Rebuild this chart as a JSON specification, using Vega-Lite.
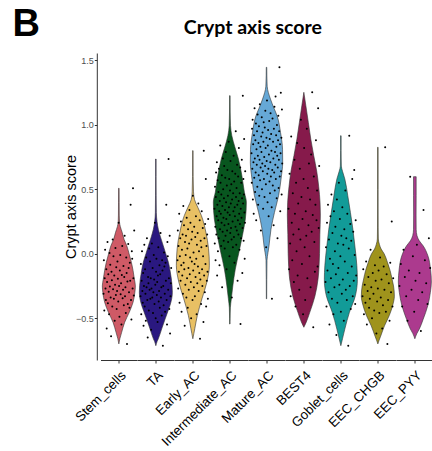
{"$schema":"https://vega.github.io/schema/vega-lite/v6.json","padding":{"left":12.5,"top":5,"right":0,"bottom":0},"background":"white","title":{"text":"B","anchor":"start","frame":"bounds","fontSize":38,"font":"Liberation Sans","fontWeight":"bold","color":"#000","offset":-26,"dx":-51},
"vconcat":[{
"title":{"text":"Crypt axis score","anchor":"middle","frame":"bounds","fontSize":19.5,"font":"Lato","fontWeight":"bold","color":"#000","dx":4.5,"offset":15},
"data":{"values":[
{"cell":"Stem_cells","score":-0.70,"density":0},{"cell":"Stem_cells","score":-0.66,"density":0.06},{"cell":"Stem_cells","score":-0.61,"density":0.17},{"cell":"Stem_cells","score":-0.533,"density":0.35},{"cell":"Stem_cells","score":-0.455,"density":0.63},{"cell":"Stem_cells","score":-0.377,"density":0.86},{"cell":"Stem_cells","score":-0.30,"density":0.97},{"cell":"Stem_cells","score":-0.25,"density":1.0},{"cell":"Stem_cells","score":-0.196,"density":0.94},{"cell":"Stem_cells","score":-0.13,"density":0.86},{"cell":"Stem_cells","score":-0.067,"density":0.76},{"cell":"Stem_cells","score":0.0,"density":0.62},{"cell":"Stem_cells","score":0.062,"density":0.48},{"cell":"Stem_cells","score":0.11,"density":0.32},{"cell":"Stem_cells","score":0.166,"density":0.2},{"cell":"Stem_cells","score":0.21,"density":0.09},{"cell":"Stem_cells","score":0.244,"density":0.04},{"cell":"Stem_cells","score":0.3,"density":0.025},{"cell":"Stem_cells","score":0.4,"density":0.02},{"cell":"Stem_cells","score":0.508,"density":0.015},
{"cell":"TA","score":-0.714,"density":0},{"cell":"TA","score":-0.68,"density":0.08},{"cell":"TA","score":-0.66,"density":0.15},{"cell":"TA","score":-0.585,"density":0.35},{"cell":"TA","score":-0.507,"density":0.56},{"cell":"TA","score":-0.45,"density":0.72},{"cell":"TA","score":-0.40,"density":0.86},{"cell":"TA","score":-0.30,"density":1.0},{"cell":"TA","score":-0.196,"density":0.94},{"cell":"TA","score":-0.13,"density":0.86},{"cell":"TA","score":-0.067,"density":0.76},{"cell":"TA","score":0.0,"density":0.6},{"cell":"TA","score":0.062,"density":0.45},{"cell":"TA","score":0.13,"density":0.28},{"cell":"TA","score":0.19,"density":0.15},{"cell":"TA","score":0.25,"density":0.07},{"cell":"TA","score":0.32,"density":0.03},{"cell":"TA","score":0.45,"density":0.02},{"cell":"TA","score":0.6,"density":0.015},{"cell":"TA","score":0.735,"density":0.015},
{"cell":"Early_AC","score":-0.66,"density":0},{"cell":"Early_AC","score":-0.62,"density":0.06},{"cell":"Early_AC","score":-0.58,"density":0.12},{"cell":"Early_AC","score":-0.48,"density":0.27},{"cell":"Early_AC","score":-0.35,"density":0.55},{"cell":"Early_AC","score":-0.22,"density":0.85},{"cell":"Early_AC","score":-0.09,"density":1.0},{"cell":"Early_AC","score":0.04,"density":0.95},{"cell":"Early_AC","score":0.166,"density":0.79},{"cell":"Early_AC","score":0.295,"density":0.52},{"cell":"Early_AC","score":0.36,"density":0.3},{"cell":"Early_AC","score":0.42,"density":0.1},{"cell":"Early_AC","score":0.48,"density":0.04},{"cell":"Early_AC","score":0.6,"density":0.02},{"cell":"Early_AC","score":0.8,"density":0.015},
{"cell":"Intermediate_AC","score":-0.546,"density":0.01},{"cell":"Intermediate_AC","score":-0.5,"density":0.015},{"cell":"Intermediate_AC","score":-0.42,"density":0.03},{"cell":"Intermediate_AC","score":-0.35,"density":0.09},{"cell":"Intermediate_AC","score":-0.25,"density":0.18},{"cell":"Intermediate_AC","score":-0.12,"density":0.33},{"cell":"Intermediate_AC","score":0.01,"density":0.55},{"cell":"Intermediate_AC","score":0.14,"density":0.76},{"cell":"Intermediate_AC","score":0.27,"density":0.94},{"cell":"Intermediate_AC","score":0.4,"density":1.0},{"cell":"Intermediate_AC","score":0.477,"density":0.88},{"cell":"Intermediate_AC","score":0.606,"density":0.73},{"cell":"Intermediate_AC","score":0.735,"density":0.52},{"cell":"Intermediate_AC","score":0.83,"density":0.3},{"cell":"Intermediate_AC","score":0.916,"density":0.12},{"cell":"Intermediate_AC","score":0.994,"density":0.04},{"cell":"Intermediate_AC","score":1.1,"density":0.02},{"cell":"Intermediate_AC","score":1.227,"density":0.015},
{"cell":"Mature_AC","score":-0.35,"density":0.01},{"cell":"Mature_AC","score":-0.2,"density":0.015},{"cell":"Mature_AC","score":-0.05,"density":0.03},{"cell":"Mature_AC","score":0.01,"density":0.09},{"cell":"Mature_AC","score":0.06,"density":0.15},{"cell":"Mature_AC","score":0.19,"density":0.27},{"cell":"Mature_AC","score":0.32,"density":0.48},{"cell":"Mature_AC","score":0.45,"density":0.73},{"cell":"Mature_AC","score":0.58,"density":0.88},{"cell":"Mature_AC","score":0.71,"density":0.98},{"cell":"Mature_AC","score":0.81,"density":0.97},{"cell":"Mature_AC","score":0.94,"density":0.85},{"cell":"Mature_AC","score":1.07,"density":0.64},{"cell":"Mature_AC","score":1.13,"density":0.45},{"cell":"Mature_AC","score":1.2,"density":0.24},{"cell":"Mature_AC","score":1.3,"density":0.04},{"cell":"Mature_AC","score":1.38,"density":0.02},{"cell":"Mature_AC","score":1.447,"density":0.015},
{"cell":"BEST4","score":-0.571,"density":0},{"cell":"BEST4","score":-0.53,"density":0.15},{"cell":"BEST4","score":-0.455,"density":0.36},{"cell":"BEST4","score":-0.33,"density":0.67},{"cell":"BEST4","score":-0.196,"density":0.86},{"cell":"BEST4","score":-0.1,"density":0.92},{"cell":"BEST4","score":0.0,"density":0.95},{"cell":"BEST4","score":0.15,"density":0.97},{"cell":"BEST4","score":0.3,"density":1.0},{"cell":"BEST4","score":0.4,"density":0.98},{"cell":"BEST4","score":0.52,"density":0.9},{"cell":"BEST4","score":0.64,"density":0.78},{"cell":"BEST4","score":0.76,"density":0.6},{"cell":"BEST4","score":0.89,"density":0.42},{"cell":"BEST4","score":1.02,"density":0.27},{"cell":"BEST4","score":1.15,"density":0.12},{"cell":"BEST4","score":1.253,"density":0},
{"cell":"Goblet_cells","score":-0.714,"density":0},{"cell":"Goblet_cells","score":-0.66,"density":0.1},{"cell":"Goblet_cells","score":-0.585,"density":0.24},{"cell":"Goblet_cells","score":-0.455,"density":0.52},{"cell":"Goblet_cells","score":-0.326,"density":0.88},{"cell":"Goblet_cells","score":-0.2,"density":1.0},{"cell":"Goblet_cells","score":-0.093,"density":0.97},{"cell":"Goblet_cells","score":0.06,"density":0.85},{"cell":"Goblet_cells","score":0.19,"density":0.73},{"cell":"Goblet_cells","score":0.32,"density":0.58},{"cell":"Goblet_cells","score":0.45,"density":0.42},{"cell":"Goblet_cells","score":0.58,"density":0.24},{"cell":"Goblet_cells","score":0.64,"density":0.1},{"cell":"Goblet_cells","score":0.68,"density":0.03},{"cell":"Goblet_cells","score":0.8,"density":0.015},{"cell":"Goblet_cells","score":0.916,"density":0.015},
{"cell":"EEC_CHGB","score":-0.70,"density":0},{"cell":"EEC_CHGB","score":-0.67,"density":0.08},{"cell":"EEC_CHGB","score":-0.64,"density":0.17},{"cell":"EEC_CHGB","score":-0.56,"density":0.4},{"cell":"EEC_CHGB","score":-0.48,"density":0.69},{"cell":"EEC_CHGB","score":-0.40,"density":0.9},{"cell":"EEC_CHGB","score":-0.33,"density":1.0},{"cell":"EEC_CHGB","score":-0.25,"density":0.95},{"cell":"EEC_CHGB","score":-0.196,"density":0.86},{"cell":"EEC_CHGB","score":-0.13,"density":0.74},{"cell":"EEC_CHGB","score":-0.067,"density":0.58},{"cell":"EEC_CHGB","score":0.0,"density":0.38},{"cell":"EEC_CHGB","score":0.036,"density":0.2},{"cell":"EEC_CHGB","score":0.07,"density":0.1},{"cell":"EEC_CHGB","score":0.114,"density":0.03},{"cell":"EEC_CHGB","score":0.2,"density":0.02},{"cell":"EEC_CHGB","score":0.5,"density":0.015},{"cell":"EEC_CHGB","score":0.826,"density":0.015},
{"cell":"EEC_PYY","score":-0.66,"density":0},{"cell":"EEC_PYY","score":-0.62,"density":0.12},{"cell":"EEC_PYY","score":-0.585,"density":0.27},{"cell":"EEC_PYY","score":-0.51,"density":0.5},{"cell":"EEC_PYY","score":-0.40,"density":0.79},{"cell":"EEC_PYY","score":-0.30,"density":0.94},{"cell":"EEC_PYY","score":-0.22,"density":1.0},{"cell":"EEC_PYY","score":-0.12,"density":0.95},{"cell":"EEC_PYY","score":-0.016,"density":0.79},{"cell":"EEC_PYY","score":0.062,"density":0.5},{"cell":"EEC_PYY","score":0.10,"density":0.27},{"cell":"EEC_PYY","score":0.14,"density":0.13},{"cell":"EEC_PYY","score":0.19,"density":0.08},{"cell":"EEC_PYY","score":0.3,"density":0.075},{"cell":"EEC_PYY","score":0.45,"density":0.08},{"cell":"EEC_PYY","score":0.598,"density":0.08},
{"cell":"Stem_cells","score":-0.31},{"cell":"Stem_cells","score":-0.05},{"cell":"Stem_cells","score":-0.44},{"cell":"Stem_cells","score":-0.19},{"cell":"Stem_cells","score":0.03},{"cell":"Stem_cells","score":-0.27},{"cell":"Stem_cells","score":-0.36},{"cell":"Stem_cells","score":-0.12},{"cell":"Stem_cells","score":-0.58},{"cell":"Stem_cells","score":-0.22},{"cell":"Stem_cells","score":0.09},{"cell":"Stem_cells","score":-0.385},{"cell":"Stem_cells","score":-0.16},{"cell":"Stem_cells","score":-0.295},{"cell":"Stem_cells","score":-0.47},{"cell":"Stem_cells","score":0.005},{"cell":"Stem_cells","score":-0.255},{"cell":"Stem_cells","score":-0.085},{"cell":"Stem_cells","score":-0.34},{"cell":"Stem_cells","score":-0.64},{"cell":"Stem_cells","score":-0.14},{"cell":"Stem_cells","score":-0.205},{"cell":"Stem_cells","score":-0.41},{"cell":"Stem_cells","score":0.11},{"cell":"Stem_cells","score":-0.275},{"cell":"Stem_cells","score":-0.02},{"cell":"Stem_cells","score":-0.35},{"cell":"Stem_cells","score":-0.17},{"cell":"Stem_cells","score":-0.52},{"cell":"Stem_cells","score":-0.24},{"cell":"Stem_cells","score":0.045},{"cell":"Stem_cells","score":-0.32},{"cell":"Stem_cells","score":-0.105},{"cell":"Stem_cells","score":-0.43},{"cell":"Stem_cells","score":-0.29},{"cell":"Stem_cells","score":-0.06},{"cell":"Stem_cells","score":-0.195},{"cell":"Stem_cells","score":-0.37},{"cell":"Stem_cells","score":0.24},{"cell":"Stem_cells","score":-0.25},{"cell":"Stem_cells","score":-0.49},{"cell":"Stem_cells","score":-0.13},{"cell":"Stem_cells","score":-0.01},{"cell":"Stem_cells","score":-0.315},{"cell":"Stem_cells","score":-0.23},{"cell":"Stem_cells","score":-0.55},{"cell":"Stem_cells","score":-0.165},{"cell":"Stem_cells","score":0.06},{"cell":"Stem_cells","score":-0.345},{"cell":"Stem_cells","score":-0.28},{"cell":"Stem_cells","score":-0.095},{"cell":"Stem_cells","score":-0.40},{"cell":"Stem_cells","score":-0.18},{"cell":"Stem_cells","score":0.14},{"cell":"Stem_cells","score":-0.33},{"cell":"Stem_cells","score":-0.26},{"cell":"Stem_cells","score":-0.46},{"cell":"Stem_cells","score":-0.03},{"cell":"Stem_cells","score":-0.15},{"cell":"Stem_cells","score":-0.70},{"cell":"Stem_cells","score":-0.215},{"cell":"Stem_cells","score":-0.39},{"cell":"Stem_cells","score":0.075},{"cell":"Stem_cells","score":-0.11},{"cell":"Stem_cells","score":-0.3},{"cell":"Stem_cells","score":-0.42},{"cell":"Stem_cells","score":-0.07},{"cell":"Stem_cells","score":-0.21},{"cell":"Stem_cells","score":0.38},{"cell":"Stem_cells","score":-0.36},{"cell":"Stem_cells","score":-0.51},{"cell":"Stem_cells","score":0.02},{"cell":"Stem_cells","score":-0.04},{"cell":"Stem_cells","score":-0.27},{"cell":"Stem_cells","score":0.508},{"cell":"Stem_cells","score":-0.19},{"cell":"Stem_cells","score":-0.325},{"cell":"Stem_cells","score":0.18},
{"cell":"TA","score":-0.33},{"cell":"TA","score":-0.08},{"cell":"TA","score":-0.47},{"cell":"TA","score":-0.21},{"cell":"TA","score":0.02},{"cell":"TA","score":-0.29},{"cell":"TA","score":-0.38},{"cell":"TA","score":-0.15},{"cell":"TA","score":-0.56},{"cell":"TA","score":-0.25},{"cell":"TA","score":0.07},{"cell":"TA","score":-0.41},{"cell":"TA","score":-0.12},{"cell":"TA","score":-0.31},{"cell":"TA","score":-0.52},{"cell":"TA","score":-0.03},{"cell":"TA","score":-0.26},{"cell":"TA","score":0.12},{"cell":"TA","score":-0.36},{"cell":"TA","score":-0.65},{"cell":"TA","score":-0.18},{"cell":"TA","score":-0.23},{"cell":"TA","score":-0.44},{"cell":"TA","score":0.04},{"cell":"TA","score":-0.28},{"cell":"TA","score":-0.06},{"cell":"TA","score":-0.35},{"cell":"TA","score":-0.19},{"cell":"TA","score":-0.59},{"cell":"TA","score":-0.27},{"cell":"TA","score":0.08},{"cell":"TA","score":-0.34},{"cell":"TA","score":-0.11},{"cell":"TA","score":-0.46},{"cell":"TA","score":-0.3},{"cell":"TA","score":-0.01},{"cell":"TA","score":-0.2},{"cell":"TA","score":-0.39},{"cell":"TA","score":0.24},{"cell":"TA","score":-0.24},{"cell":"TA","score":-0.5},{"cell":"TA","score":-0.14},{"cell":"TA","score":-0.04},{"cell":"TA","score":-0.32},{"cell":"TA","score":-0.22},{"cell":"TA","score":-0.53},{"cell":"TA","score":-0.17},{"cell":"TA","score":0.05},{"cell":"TA","score":-0.37},{"cell":"TA","score":-0.29},{"cell":"TA","score":-0.09},{"cell":"TA","score":-0.42},{"cell":"TA","score":-0.16},{"cell":"TA","score":0.16},{"cell":"TA","score":-0.34},{"cell":"TA","score":-0.26},{"cell":"TA","score":-0.48},{"cell":"TA","score":-0.05},{"cell":"TA","score":-0.13},{"cell":"TA","score":-0.714},{"cell":"TA","score":-0.25},{"cell":"TA","score":-0.4},{"cell":"TA","score":0.01},{"cell":"TA","score":-0.1},{"cell":"TA","score":-0.31},{"cell":"TA","score":-0.45},{"cell":"TA","score":-0.07},{"cell":"TA","score":-0.21},{"cell":"TA","score":0.38},{"cell":"TA","score":-0.36},{"cell":"TA","score":-0.55},{"cell":"TA","score":0.09},{"cell":"TA","score":-0.02},{"cell":"TA","score":-0.28},{"cell":"TA","score":0.735},{"cell":"TA","score":-0.19},{"cell":"TA","score":-0.43},{"cell":"TA","score":0.14},{"cell":"TA","score":-0.62},{"cell":"TA","score":-0.33},{"cell":"TA","score":-0.23},{"cell":"TA","score":-0.11},
{"cell":"Early_AC","score":-0.05},{"cell":"Early_AC","score":0.18},{"cell":"Early_AC","score":-0.27},{"cell":"Early_AC","score":0.06},{"cell":"Early_AC","score":-0.14},{"cell":"Early_AC","score":0.31},{"cell":"Early_AC","score":-0.38},{"cell":"Early_AC","score":-0.02},{"cell":"Early_AC","score":0.12},{"cell":"Early_AC","score":-0.21},{"cell":"Early_AC","score":0.25},{"cell":"Early_AC","score":-0.09},{"cell":"Early_AC","score":-0.45},{"cell":"Early_AC","score":0.03},{"cell":"Early_AC","score":-0.17},{"cell":"Early_AC","score":0.15},{"cell":"Early_AC","score":-0.31},{"cell":"Early_AC","score":0.37},{"cell":"Early_AC","score":-0.07},{"cell":"Early_AC","score":0.22},{"cell":"Early_AC","score":-0.12},{"cell":"Early_AC","score":-0.56},{"cell":"Early_AC","score":0.09},{"cell":"Early_AC","score":-0.24},{"cell":"Early_AC","score":-0.01},{"cell":"Early_AC","score":0.14},{"cell":"Early_AC","score":-0.34},{"cell":"Early_AC","score":0.28},{"cell":"Early_AC","score":-0.19},{"cell":"Early_AC","score":0.04},{"cell":"Early_AC","score":-0.42},{"cell":"Early_AC","score":0.19},{"cell":"Early_AC","score":-0.11},{"cell":"Early_AC","score":-0.28},{"cell":"Early_AC","score":0.08},{"cell":"Early_AC","score":0.34},{"cell":"Early_AC","score":-0.16},{"cell":"Early_AC","score":-0.03},{"cell":"Early_AC","score":0.24},{"cell":"Early_AC","score":-0.22},{"cell":"Early_AC","score":-0.5},{"cell":"Early_AC","score":0.11},{"cell":"Early_AC","score":-0.06},{"cell":"Early_AC","score":0.17},{"cell":"Early_AC","score":-0.36},{"cell":"Early_AC","score":0.45},{"cell":"Early_AC","score":-0.13},{"cell":"Early_AC","score":0.01},{"cell":"Early_AC","score":-0.26},{"cell":"Early_AC","score":0.21},{"cell":"Early_AC","score":-0.08},{"cell":"Early_AC","score":-0.33},{"cell":"Early_AC","score":0.13},{"cell":"Early_AC","score":-0.18},{"cell":"Early_AC","score":0.29},{"cell":"Early_AC","score":-0.04},{"cell":"Early_AC","score":-0.47},{"cell":"Early_AC","score":0.07},{"cell":"Early_AC","score":-0.23},{"cell":"Early_AC","score":0.16},{"cell":"Early_AC","score":-0.1},{"cell":"Early_AC","score":0.39},{"cell":"Early_AC","score":-0.29},{"cell":"Early_AC","score":0.02},{"cell":"Early_AC","score":-0.15},{"cell":"Early_AC","score":0.26},{"cell":"Early_AC","score":-0.66},{"cell":"Early_AC","score":-0.2},{"cell":"Early_AC","score":0.1},{"cell":"Early_AC","score":-0.39},{"cell":"Early_AC","score":0.05},{"cell":"Early_AC","score":0.33},{"cell":"Early_AC","score":-0.12},{"cell":"Early_AC","score":-0.25},{"cell":"Early_AC","score":0.2},{"cell":"Early_AC","score":-0.02},{"cell":"Early_AC","score":-0.53},{"cell":"Early_AC","score":0.8},{"cell":"Early_AC","score":-0.17},{"cell":"Early_AC","score":0.12},{"cell":"Early_AC","score":-0.3},{"cell":"Early_AC","score":0.23},{"cell":"Early_AC","score":-0.08},{"cell":"Early_AC","score":0.58},{"cell":"Early_AC","score":-0.41},{"cell":"Early_AC","score":0.06},{"cell":"Early_AC","score":-0.21},{"cell":"Early_AC","score":0.15},{"cell":"Early_AC","score":-0.14},{"cell":"Early_AC","score":-0.35},{"cell":"Early_AC","score":0.27},
{"cell":"Intermediate_AC","score":0.35},{"cell":"Intermediate_AC","score":0.08},{"cell":"Intermediate_AC","score":0.52},{"cell":"Intermediate_AC","score":0.21},{"cell":"Intermediate_AC","score":-0.05},{"cell":"Intermediate_AC","score":0.44},{"cell":"Intermediate_AC","score":0.63},{"cell":"Intermediate_AC","score":0.15},{"cell":"Intermediate_AC","score":0.29},{"cell":"Intermediate_AC","score":0.71},{"cell":"Intermediate_AC","score":-0.17},{"cell":"Intermediate_AC","score":0.38},{"cell":"Intermediate_AC","score":0.57},{"cell":"Intermediate_AC","score":0.02},{"cell":"Intermediate_AC","score":0.26},{"cell":"Intermediate_AC","score":0.48},{"cell":"Intermediate_AC","score":0.12},{"cell":"Intermediate_AC","score":0.66},{"cell":"Intermediate_AC","score":0.33},{"cell":"Intermediate_AC","score":-0.09},{"cell":"Intermediate_AC","score":0.41},{"cell":"Intermediate_AC","score":0.19},{"cell":"Intermediate_AC","score":0.84},{"cell":"Intermediate_AC","score":0.55},{"cell":"Intermediate_AC","score":0.31},{"cell":"Intermediate_AC","score":0.06},{"cell":"Intermediate_AC","score":0.46},{"cell":"Intermediate_AC","score":0.24},{"cell":"Intermediate_AC","score":0.61},{"cell":"Intermediate_AC","score":-0.26},{"cell":"Intermediate_AC","score":0.37},{"cell":"Intermediate_AC","score":0.17},{"cell":"Intermediate_AC","score":0.74},{"cell":"Intermediate_AC","score":0.5},{"cell":"Intermediate_AC","score":0.28},{"cell":"Intermediate_AC","score":0.1},{"cell":"Intermediate_AC","score":0.43},{"cell":"Intermediate_AC","score":0.68},{"cell":"Intermediate_AC","score":0.22},{"cell":"Intermediate_AC","score":0.04},{"cell":"Intermediate_AC","score":0.34},{"cell":"Intermediate_AC","score":0.59},{"cell":"Intermediate_AC","score":0.14},{"cell":"Intermediate_AC","score":0.79},{"cell":"Intermediate_AC","score":0.4},{"cell":"Intermediate_AC","score":0.27},{"cell":"Intermediate_AC","score":-0.12},{"cell":"Intermediate_AC","score":0.53},{"cell":"Intermediate_AC","score":0.18},{"cell":"Intermediate_AC","score":0.65},{"cell":"Intermediate_AC","score":0.32},{"cell":"Intermediate_AC","score":0.45},{"cell":"Intermediate_AC","score":0.09},{"cell":"Intermediate_AC","score":0.23},{"cell":"Intermediate_AC","score":0.87},{"cell":"Intermediate_AC","score":0.36},{"cell":"Intermediate_AC","score":0.58},{"cell":"Intermediate_AC","score":-0.02},{"cell":"Intermediate_AC","score":0.3},{"cell":"Intermediate_AC","score":0.49},{"cell":"Intermediate_AC","score":0.16},{"cell":"Intermediate_AC","score":0.72},{"cell":"Intermediate_AC","score":0.39},{"cell":"Intermediate_AC","score":0.2},{"cell":"Intermediate_AC","score":0.54},{"cell":"Intermediate_AC","score":0.11},{"cell":"Intermediate_AC","score":-0.34},{"cell":"Intermediate_AC","score":0.42},{"cell":"Intermediate_AC","score":0.64},{"cell":"Intermediate_AC","score":0.25},{"cell":"Intermediate_AC","score":0.05},{"cell":"Intermediate_AC","score":0.47},{"cell":"Intermediate_AC","score":0.33},{"cell":"Intermediate_AC","score":0.76},{"cell":"Intermediate_AC","score":0.13},{"cell":"Intermediate_AC","score":0.56},{"cell":"Intermediate_AC","score":-0.07},{"cell":"Intermediate_AC","score":0.36},{"cell":"Intermediate_AC","score":0.29},{"cell":"Intermediate_AC","score":0.62},{"cell":"Intermediate_AC","score":0.21},{"cell":"Intermediate_AC","score":0.95},{"cell":"Intermediate_AC","score":0.44},{"cell":"Intermediate_AC","score":0.07},{"cell":"Intermediate_AC","score":0.51},{"cell":"Intermediate_AC","score":0.18},{"cell":"Intermediate_AC","score":0.69},{"cell":"Intermediate_AC","score":0.38},{"cell":"Intermediate_AC","score":-0.21},{"cell":"Intermediate_AC","score":0.26},{"cell":"Intermediate_AC","score":0.6},{"cell":"Intermediate_AC","score":0.15},{"cell":"Intermediate_AC","score":0.41},{"cell":"Intermediate_AC","score":0.82},{"cell":"Intermediate_AC","score":0.31},{"cell":"Intermediate_AC","score":0.03},{"cell":"Intermediate_AC","score":0.47},{"cell":"Intermediate_AC","score":0.23},{"cell":"Intermediate_AC","score":0.67},{"cell":"Intermediate_AC","score":-0.546},{"cell":"Intermediate_AC","score":0.35},{"cell":"Intermediate_AC","score":0.12},{"cell":"Intermediate_AC","score":0.55},{"cell":"Intermediate_AC","score":0.28},{"cell":"Intermediate_AC","score":0.73},{"cell":"Intermediate_AC","score":0.43},{"cell":"Intermediate_AC","score":-0.15},{"cell":"Intermediate_AC","score":0.2},{"cell":"Intermediate_AC","score":1.227},{"cell":"Intermediate_AC","score":0.39},{"cell":"Intermediate_AC","score":0.58},{"cell":"Intermediate_AC","score":0.1},{"cell":"Intermediate_AC","score":0.46},{"cell":"Intermediate_AC","score":0.89},{"cell":"Intermediate_AC","score":0.32},{"cell":"Intermediate_AC","score":-0.04},{"cell":"Intermediate_AC","score":0.24},{"cell":"Intermediate_AC","score":0.64},
{"cell":"Mature_AC","score":0.78},{"cell":"Mature_AC","score":0.55},{"cell":"Mature_AC","score":0.97},{"cell":"Mature_AC","score":0.66},{"cell":"Mature_AC","score":1.04},{"cell":"Mature_AC","score":0.42},{"cell":"Mature_AC","score":0.85},{"cell":"Mature_AC","score":0.71},{"cell":"Mature_AC","score":0.31},{"cell":"Mature_AC","score":0.92},{"cell":"Mature_AC","score":0.59},{"cell":"Mature_AC","score":1.13},{"cell":"Mature_AC","score":0.74},{"cell":"Mature_AC","score":0.48},{"cell":"Mature_AC","score":0.88},{"cell":"Mature_AC","score":0.63},{"cell":"Mature_AC","score":1.01},{"cell":"Mature_AC","score":0.26},{"cell":"Mature_AC","score":0.81},{"cell":"Mature_AC","score":0.69},{"cell":"Mature_AC","score":0.95},{"cell":"Mature_AC","score":0.52},{"cell":"Mature_AC","score":1.08},{"cell":"Mature_AC","score":0.76},{"cell":"Mature_AC","score":0.38},{"cell":"Mature_AC","score":0.86},{"cell":"Mature_AC","score":0.61},{"cell":"Mature_AC","score":0.99},{"cell":"Mature_AC","score":0.45},{"cell":"Mature_AC","score":0.73},{"cell":"Mature_AC","score":1.16},{"cell":"Mature_AC","score":0.57},{"cell":"Mature_AC","score":0.83},{"cell":"Mature_AC","score":0.67},{"cell":"Mature_AC","score":0.18},{"cell":"Mature_AC","score":0.91},{"cell":"Mature_AC","score":0.79},{"cell":"Mature_AC","score":1.06},{"cell":"Mature_AC","score":0.5},{"cell":"Mature_AC","score":0.7},{"cell":"Mature_AC","score":0.94},{"cell":"Mature_AC","score":0.64},{"cell":"Mature_AC","score":0.35},{"cell":"Mature_AC","score":0.87},{"cell":"Mature_AC","score":1.02},{"cell":"Mature_AC","score":0.58},{"cell":"Mature_AC","score":0.75},{"cell":"Mature_AC","score":0.44},{"cell":"Mature_AC","score":0.98},{"cell":"Mature_AC","score":0.68},{"cell":"Mature_AC","score":1.11},{"cell":"Mature_AC","score":0.82},{"cell":"Mature_AC","score":0.54},{"cell":"Mature_AC","score":0.05},{"cell":"Mature_AC","score":0.9},{"cell":"Mature_AC","score":0.72},{"cell":"Mature_AC","score":1.19},{"cell":"Mature_AC","score":0.62},{"cell":"Mature_AC","score":0.4},{"cell":"Mature_AC","score":0.84},{"cell":"Mature_AC","score":0.96},{"cell":"Mature_AC","score":0.66},{"cell":"Mature_AC","score":0.29},{"cell":"Mature_AC","score":0.77},{"cell":"Mature_AC","score":1.03},{"cell":"Mature_AC","score":0.56},{"cell":"Mature_AC","score":0.89},{"cell":"Mature_AC","score":0.47},{"cell":"Mature_AC","score":0.71},{"cell":"Mature_AC","score":1.09},{"cell":"Mature_AC","score":0.6},{"cell":"Mature_AC","score":0.93},{"cell":"Mature_AC","score":0.8},{"cell":"Mature_AC","score":0.36},{"cell":"Mature_AC","score":-0.35},{"cell":"Mature_AC","score":0.65},{"cell":"Mature_AC","score":1.05},{"cell":"Mature_AC","score":0.53},{"cell":"Mature_AC","score":0.87},{"cell":"Mature_AC","score":0.74},{"cell":"Mature_AC","score":0.22},{"cell":"Mature_AC","score":0.97},{"cell":"Mature_AC","score":0.63},{"cell":"Mature_AC","score":1.14},{"cell":"Mature_AC","score":0.49},{"cell":"Mature_AC","score":0.79},{"cell":"Mature_AC","score":0.69},{"cell":"Mature_AC","score":1.22},{"cell":"Mature_AC","score":0.58},{"cell":"Mature_AC","score":0.92},{"cell":"Mature_AC","score":0.83},{"cell":"Mature_AC","score":0.43},{"cell":"Mature_AC","score":1.0},{"cell":"Mature_AC","score":0.76},{"cell":"Mature_AC","score":0.12},{"cell":"Mature_AC","score":0.67},{"cell":"Mature_AC","score":0.88},{"cell":"Mature_AC","score":1.07},{"cell":"Mature_AC","score":0.51},{"cell":"Mature_AC","score":0.73},{"cell":"Mature_AC","score":0.95},{"cell":"Mature_AC","score":1.447},{"cell":"Mature_AC","score":0.6},{"cell":"Mature_AC","score":0.85},{"cell":"Mature_AC","score":0.33},{"cell":"Mature_AC","score":0.78},{"cell":"Mature_AC","score":1.25},{"cell":"Mature_AC","score":0.64},{"cell":"Mature_AC","score":0.9},{"cell":"Mature_AC","score":0.46},{"cell":"Mature_AC","score":1.12},{"cell":"Mature_AC","score":0.7},
{"cell":"BEST4","score":0.35},{"cell":"BEST4","score":-0.12},{"cell":"BEST4","score":0.62},{"cell":"BEST4","score":0.08},{"cell":"BEST4","score":-0.33},{"cell":"BEST4","score":0.91},{"cell":"BEST4","score":0.24},{"cell":"BEST4","score":-0.05},{"cell":"BEST4","score":0.47},{"cell":"BEST4","score":0.15},{"cell":"BEST4","score":-0.22},{"cell":"BEST4","score":0.73},{"cell":"BEST4","score":0.31},{"cell":"BEST4","score":-0.41},{"cell":"BEST4","score":0.55},{"cell":"BEST4","score":0.02},{"cell":"BEST4","score":0.86},{"cell":"BEST4","score":-0.17},{"cell":"BEST4","score":0.39},{"cell":"BEST4","score":0.19},{"cell":"BEST4","score":-0.28},{"cell":"BEST4","score":0.66},{"cell":"BEST4","score":0.11},{"cell":"BEST4","score":1.04},{"cell":"BEST4","score":0.44},{"cell":"BEST4","score":-0.08},{"cell":"BEST4","score":0.27},{"cell":"BEST4","score":-0.47},{"cell":"BEST4","score":0.58},{"cell":"BEST4","score":0.82},{"cell":"BEST4","score":0.05},{"cell":"BEST4","score":-0.36},{"cell":"BEST4","score":0.33},{"cell":"BEST4","score":0.14},{"cell":"BEST4","score":0.97},{"cell":"BEST4","score":-0.19},{"cell":"BEST4","score":0.51},{"cell":"BEST4","score":0.22},{"cell":"BEST4","score":0.7},{"cell":"BEST4","score":-0.02},{"cell":"BEST4","score":0.42},{"cell":"BEST4","score":-0.26},{"cell":"BEST4","score":0.77},{"cell":"BEST4","score":0.17},{"cell":"BEST4","score":1.253},{"cell":"BEST4","score":0.3},{"cell":"BEST4","score":-0.571},{"cell":"BEST4","score":0.6},{"cell":"BEST4","score":0.09},{"cell":"BEST4","score":-0.14},{"cell":"BEST4","score":0.38},{"cell":"BEST4","score":0.88},{"cell":"BEST4","score":0.26},{"cell":"BEST4","score":0.49},{"cell":"BEST4","score":-0.1},{"cell":"BEST4","score":1.13},{"cell":"BEST4","score":0.2},{"cell":"BEST4","score":0.68},
{"cell":"Goblet_cells","score":-0.22},{"cell":"Goblet_cells","score":0.05},{"cell":"Goblet_cells","score":-0.41},{"cell":"Goblet_cells","score":0.24},{"cell":"Goblet_cells","score":-0.13},{"cell":"Goblet_cells","score":0.38},{"cell":"Goblet_cells","score":-0.3},{"cell":"Goblet_cells","score":0.11},{"cell":"Goblet_cells","score":-0.55},{"cell":"Goblet_cells","score":-0.04},{"cell":"Goblet_cells","score":0.29},{"cell":"Goblet_cells","score":-0.19},{"cell":"Goblet_cells","score":0.46},{"cell":"Goblet_cells","score":-0.35},{"cell":"Goblet_cells","score":0.16},{"cell":"Goblet_cells","score":-0.08},{"cell":"Goblet_cells","score":-0.47},{"cell":"Goblet_cells","score":0.33},{"cell":"Goblet_cells","score":-0.26},{"cell":"Goblet_cells","score":0.02},{"cell":"Goblet_cells","score":0.21},{"cell":"Goblet_cells","score":-0.16},{"cell":"Goblet_cells","score":-0.63},{"cell":"Goblet_cells","score":0.42},{"cell":"Goblet_cells","score":-0.38},{"cell":"Goblet_cells","score":0.08},{"cell":"Goblet_cells","score":-0.11},{"cell":"Goblet_cells","score":0.55},{"cell":"Goblet_cells","score":-0.24},{"cell":"Goblet_cells","score":0.27},{"cell":"Goblet_cells","score":-0.02},{"cell":"Goblet_cells","score":-0.45},{"cell":"Goblet_cells","score":0.14},{"cell":"Goblet_cells","score":-0.31},{"cell":"Goblet_cells","score":0.36},{"cell":"Goblet_cells","score":-0.2},{"cell":"Goblet_cells","score":0.07},{"cell":"Goblet_cells","score":-0.52},{"cell":"Goblet_cells","score":0.19},{"cell":"Goblet_cells","score":-0.06},{"cell":"Goblet_cells","score":0.49},{"cell":"Goblet_cells","score":-0.28},{"cell":"Goblet_cells","score":0.12},{"cell":"Goblet_cells","score":-0.36},{"cell":"Goblet_cells","score":0.31},{"cell":"Goblet_cells","score":-0.15},{"cell":"Goblet_cells","score":-0.714},{"cell":"Goblet_cells","score":0.04},{"cell":"Goblet_cells","score":0.916},{"cell":"Goblet_cells","score":-0.25},{"cell":"Goblet_cells","score":0.23},{"cell":"Goblet_cells","score":-0.43},{"cell":"Goblet_cells","score":0.1},{"cell":"Goblet_cells","score":-0.1},{"cell":"Goblet_cells","score":0.58},{"cell":"Goblet_cells","score":-0.33},{"cell":"Goblet_cells","score":0.17},{"cell":"Goblet_cells","score":-0.21},{"cell":"Goblet_cells","score":0.65},{"cell":"Goblet_cells","score":-0.01},{"cell":"Goblet_cells","score":-0.39},{"cell":"Goblet_cells","score":0.26},{"cell":"Goblet_cells","score":-0.17},
{"cell":"EEC_CHGB","score":-0.33},{"cell":"EEC_CHGB","score":-0.12},{"cell":"EEC_CHGB","score":-0.47},{"cell":"EEC_CHGB","score":-0.24},{"cell":"EEC_CHGB","score":-0.38},{"cell":"EEC_CHGB","score":-0.06},{"cell":"EEC_CHGB","score":-0.55},{"cell":"EEC_CHGB","score":-0.29},{"cell":"EEC_CHGB","score":-0.18},{"cell":"EEC_CHGB","score":-0.42},{"cell":"EEC_CHGB","score":-0.35},{"cell":"EEC_CHGB","score":0.03},{"cell":"EEC_CHGB","score":-0.26},{"cell":"EEC_CHGB","score":-0.5},{"cell":"EEC_CHGB","score":-0.15},{"cell":"EEC_CHGB","score":-0.31},{"cell":"EEC_CHGB","score":-0.44},{"cell":"EEC_CHGB","score":-0.09},{"cell":"EEC_CHGB","score":-0.21},{"cell":"EEC_CHGB","score":-0.62},{"cell":"EEC_CHGB","score":-0.37},{"cell":"EEC_CHGB","score":-0.27},{"cell":"EEC_CHGB","score":-0.13},{"cell":"EEC_CHGB","score":-0.46},{"cell":"EEC_CHGB","score":-0.03},{"cell":"EEC_CHGB","score":-0.34},{"cell":"EEC_CHGB","score":-0.2},{"cell":"EEC_CHGB","score":-0.58},{"cell":"EEC_CHGB","score":-0.4},{"cell":"EEC_CHGB","score":-0.1},{"cell":"EEC_CHGB","score":-0.28},{"cell":"EEC_CHGB","score":0.826},{"cell":"EEC_CHGB","score":-0.45},{"cell":"EEC_CHGB","score":-0.16},{"cell":"EEC_CHGB","score":-0.7},{"cell":"EEC_CHGB","score":-0.36},{"cell":"EEC_CHGB","score":-0.23},{"cell":"EEC_CHGB","score":-0.52},{"cell":"EEC_CHGB","score":-0.07},{"cell":"EEC_CHGB","score":-0.3},{"cell":"EEC_CHGB","score":0.25},{"cell":"EEC_CHGB","score":-0.41},{"cell":"EEC_CHGB","score":-0.19},
{"cell":"EEC_PYY","score":-0.25},{"cell":"EEC_PYY","score":-0.08},{"cell":"EEC_PYY","score":-0.41},{"cell":"EEC_PYY","score":0.03},{"cell":"EEC_PYY","score":-0.18},{"cell":"EEC_PYY","score":-0.33},{"cell":"EEC_PYY","score":-0.52},{"cell":"EEC_PYY","score":-0.13},{"cell":"EEC_PYY","score":0.598},{"cell":"EEC_PYY","score":-0.28},{"cell":"EEC_PYY","score":-0.02},{"cell":"EEC_PYY","score":-0.45},{"cell":"EEC_PYY","score":-0.21},{"cell":"EEC_PYY","score":0.07},{"cell":"EEC_PYY","score":-0.36},{"cell":"EEC_PYY","score":-0.15},{"cell":"EEC_PYY","score":-0.6},{"cell":"EEC_PYY","score":-0.3},{"cell":"EEC_PYY","score":0.34},{"cell":"EEC_PYY","score":-0.05},{"cell":"EEC_PYY","score":-0.23},{"cell":"EEC_PYY","score":-0.39},{"cell":"EEC_PYY","score":0.12},{"cell":"EEC_PYY","score":-0.11}
]},
"facet":{"column":{"field":"cell","type":"nominal","title":null,"sort":["Stem_cells","TA","Early_AC","Intermediate_AC","Mature_AC","BEST4","Goblet_cells","EEC_CHGB","EEC_PYY"],"header":{"labelOrient":"bottom","labelAngle":-45,"labelAlign":"right","labelBaseline":"top","labelFontSize":13.3,"labelFont":"Liberation Sans","labelColor":"#000","labelPadding":4.5}}},
"spacing":0,
"resolve":{"scale":{"x":"independent"}},
"spec":{
"width":36.7,"height":307,
"resolve":{"scale":{"x":"independent"}},
"layer":[
{"transform":[{"filter":"isValid(datum.density)"}],
"mark":{"type":"area","orient":"horizontal","interpolate":"monotone","stroke":"#333","strokeWidth":0.6},
"encoding":{
"y":{"field":"score","type":"quantitative","title":"Crypt axis score","scale":{"domain":[-0.825,1.558],"nice":false,"zero":false},"axis":{"values":[-0.5,0,0.5,1,1.5],"format":".1f","labelFontSize":9,"labelColor":"#4d4d4d","labelPadding":1,"tickSize":2.5,"tickColor":"#333","domainColor":"#333","title":"Crypt axis score","titleFontSize":14.5,"titleFontWeight":"normal","titleColor":"#000","titleFont":"Liberation Sans","titlePadding":-3,"offset":3.7,"grid":false}},
"x":{"field":"density","type":"quantitative","stack":"center","impute":null,"scale":{"domain":[-0.0556,1.0556],"nice":false,"zero":false},"axis":{"values":[0.5],"labels":false,"title":null,"tickSize":3,"domainColor":"#333","tickColor":"#333","grid":false}},
"color":{"field":"cell","type":"nominal","legend":null,"scale":{"domain":["Stem_cells","TA","Early_AC","Intermediate_AC","Mature_AC","BEST4","Goblet_cells","EEC_CHGB","EEC_PYY"],"range":["#CF5A66","#2A1880","#E8C064","#08561F","#66A8D6","#861A4B","#129B98","#9F931C","#AC3A8E"]}}
}},
{"transform":[{"filter":"!isValid(datum.density)"},{"window":[{"op":"row_number","as":"jitter"}],"groupby":["cell"]}],
"mark":{"type":"circle","size":4,"color":"#000","opacity":1},
"encoding":{
"y":{"field":"score","type":"quantitative","title":"Crypt axis score","axis":{"titleFontSize":14.5,"titleFontWeight":"normal","titleColor":"#000","titleFont":"Liberation Sans","labelFontSize":9,"titlePadding":-3}},
"x":{"field":"jitter","type":"quantitative","scale":{"zero":false,"nice":false,"padding":3},"axis":null}
}}
]}
}],
"config":{"view":{"stroke":null},"font":"Liberation Sans","axis":{"titleFontSize":14.5,"titleFont":"Liberation Sans","titleFontWeight":"normal","titleColor":"#000"},"axisY":{"titleFontSize":14.5,"titleFont":"Liberation Sans","titleFontWeight":"normal","titleColor":"#000","labelFontSize":9,"labelColor":"#4d4d4d","titlePadding":-3},"header":{"titleFontSize":14.5,"titleFontWeight":"normal","titleColor":"#000"},"style":{"guide-title":{"fontSize":14.5,"fontWeight":"normal"}}}
}
